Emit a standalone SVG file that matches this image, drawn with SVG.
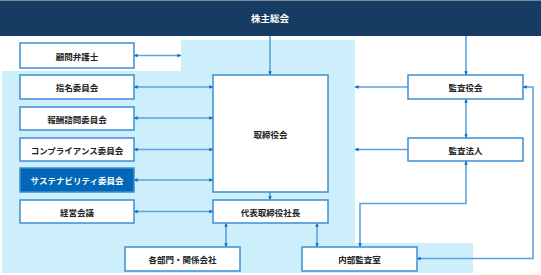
<svg xmlns="http://www.w3.org/2000/svg" width="541" height="275" viewBox="0 0 541 275">
<style>
.box{fill:#ffffff;stroke:#3d8fd4;stroke-width:1.5}
.hl{fill:#0068b7;stroke:#3d8fd4;stroke-width:1.5}
.t{font-family:"Noto Sans CJK JP","Noto Sans",sans-serif;font-size:8.5px;font-weight:bold;fill:#222;text-anchor:middle;dominant-baseline:central}
.tw{fill:#ffffff}
.c{fill:none;stroke:#5aa5de;stroke-width:1.6}
</style>
<defs>
<marker id="a" viewBox="0 0 6 6" refX="5.5" refY="3" markerWidth="4" markerHeight="4" orient="auto-start-reverse" markerUnits="userSpaceOnUse">
<path d="M0,0.5 L6,3 L0,5.5 Z" fill="#0a6bbf"/>
</marker>
</defs>
<rect x="0" y="0" width="541" height="275" fill="#ffffff"/>
<polygon points="181,40 355,40 355,243 473,243 473,273 2,273 2,71 181,71" fill="#cdeefb"/>
<g id="header">
<rect x="0" y="0" width="541" height="36" fill="#173c63"/>
<line x1="0" y1="0.5" x2="541" y2="0.5" stroke="#7d8a97" stroke-width="1"/>
<text class="t tw" x="270" y="18" style="font-size:9.5px">株主総会</text>
</g>
<g id="connectors">
<path class="c" d="M134,55.5 H181" marker-start="url(#a)" marker-end="url(#a)"/>
<path class="c" d="M134,87 H213" marker-start="url(#a)" marker-end="url(#a)"/>
<path class="c" d="M134,118 H213" marker-start="url(#a)" marker-end="url(#a)"/>
<path class="c" d="M134,149.5 H213" marker-start="url(#a)" marker-end="url(#a)"/>
<path class="c" d="M134,180 H213" marker-start="url(#a)" marker-end="url(#a)"/>
<path class="c" d="M134,211.5 H213" marker-start="url(#a)" marker-end="url(#a)"/>
<path class="c" d="M270,36 V75" marker-end="url(#a)"/>
<path class="c" d="M466,36 V75" marker-end="url(#a)"/>
<path class="c" d="M408,87 H355" marker-end="url(#a)"/>
<path class="c" d="M466,99 V138" marker-start="url(#a)" marker-end="url(#a)"/>
<path class="c" d="M408,149.5 H355" marker-end="url(#a)"/>
<path class="c" d="M270,192 V200" marker-end="url(#a)"/>
<path class="c" d="M226,223 V247" marker-start="url(#a)" marker-end="url(#a)"/>
<path class="c" d="M317,223 V247" marker-start="url(#a)" marker-end="url(#a)"/>
<path class="c" d="M466,161 V203.5 H360 V247" marker-start="url(#a)" marker-end="url(#a)"/>
<path class="c" d="M523,87 H533 V258.5 H417" marker-start="url(#a)" marker-end="url(#a)"/>
</g>
<g id="n-komon"><rect class="box" x="20" y="43" width="114" height="25"/><text class="t" x="77" y="55.5">顧問弁護士</text></g>
<g id="n-shimei"><rect class="box" x="20" y="75" width="114" height="24"/><text class="t" x="77" y="87">指名委員会</text></g>
<g id="n-hoshu"><rect class="box" x="20" y="107" width="114" height="23"/><text class="t" x="77" y="118.5">報酬諮問委員会</text></g>
<g id="n-comp"><rect class="box" x="20" y="138" width="114" height="23"/><text class="t" x="77" y="149.5">コンプライアンス委員会</text></g>
<g id="n-sus"><rect class="hl" x="20" y="168" width="114" height="24"/><text class="t tw" x="77" y="180">サステナビリティ委員会</text></g>
<g id="n-keiei"><rect class="box" x="20" y="200" width="114" height="23"/><text class="t" x="77" y="211.5">経営会議</text></g>
<g id="n-torishimari"><rect class="box" x="213" y="75" width="115" height="117"/><text class="t" x="270.5" y="133.5">取締役会</text></g>
<g id="n-daihyo"><rect class="box" x="213" y="200" width="115" height="23"/><text class="t" x="270.5" y="211.5">代表取締役社長</text></g>
<g id="n-kakubu"><rect class="box" x="125" y="247" width="115" height="24"/><text class="t" x="182.5" y="259">各部門・関係会社</text></g>
<g id="n-naibu"><rect class="box" x="302" y="247" width="115" height="24"/><text class="t" x="359.5" y="259">内部監査室</text></g>
<g id="n-kansayaku"><rect class="box" x="408" y="75" width="115" height="24"/><text class="t" x="465.5" y="87">監査役会</text></g>
<g id="n-kansahojin"><rect class="box" x="408" y="138" width="115" height="23"/><text class="t" x="465.5" y="149.5">監査法人</text></g>
</svg>
